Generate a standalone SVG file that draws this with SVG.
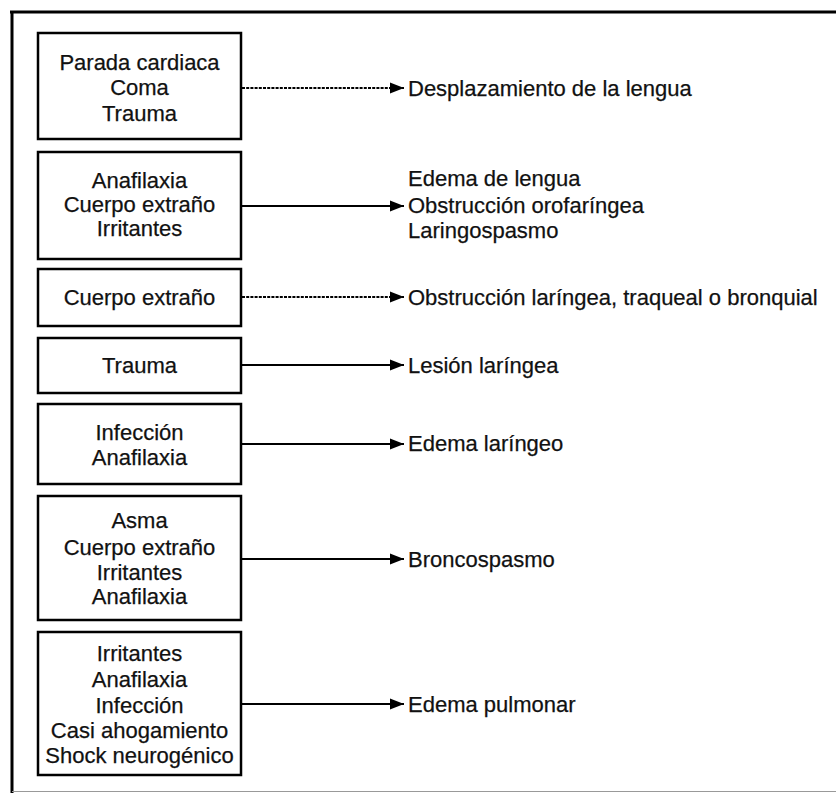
<svg xmlns="http://www.w3.org/2000/svg" width="836" height="794" viewBox="0 0 836 794">
<defs>
<marker id="ah" markerWidth="15" markerHeight="12" refX="14" refY="6" orient="auto" markerUnits="userSpaceOnUse">
<path d="M0,0.5 L14,6 L0,11.5 Z" fill="#000"/>
</marker>
<style>
.box{fill:#fff;stroke:#000;stroke-width:2.5}
.t{font-family:"Liberation Sans",Arial,sans-serif;font-size:22px;fill:#111;stroke:#111;stroke-width:0.25;text-anchor:middle}
.r{font-family:"Liberation Sans",Arial,sans-serif;font-size:22px;fill:#111;stroke:#111;stroke-width:0.25}
.c{stroke:#000;stroke-width:2.2;fill:none;marker-end:url(#ah)}
.d{stroke-dasharray:3 1.2}
</style>
</defs>
<rect width="836" height="794" fill="#fff"/>
<g id="frame">
<line x1="10" y1="12" x2="836" y2="12" stroke="#000" stroke-width="3"/>
<line x1="12" y1="11" x2="12" y2="793" stroke="#000" stroke-width="3"/>
<line x1="12" y1="791.5" x2="836" y2="791.5" stroke="#999" stroke-width="1"/>
</g>
<g id="n1"><rect class="box" x="38" y="33" width="203" height="106"/>
<text class="t" x="139.5" y="70">Parada cardiaca</text><text class="t" x="139.5" y="95">Coma</text><text class="t" x="139.5" y="121">Trauma</text></g>
<g id="n2"><rect class="box" x="38" y="152" width="203" height="107"/>
<text class="t" x="139.5" y="188">Anafilaxia</text><text class="t" x="139.5" y="212">Cuerpo extraño</text><text class="t" x="139.5" y="236">Irritantes</text></g>
<g id="n3"><rect class="box" x="38" y="269" width="203" height="57"/>
<text class="t" x="139.5" y="305">Cuerpo extraño</text></g>
<g id="n4"><rect class="box" x="38" y="338" width="203" height="55"/>
<text class="t" x="139.5" y="373">Trauma</text></g>
<g id="n5"><rect class="box" x="38" y="404" width="203" height="80"/>
<text class="t" x="139.5" y="440">Infección</text><text class="t" x="139.5" y="465">Anafilaxia</text></g>
<g id="n6"><rect class="box" x="38" y="496" width="203" height="124"/>
<text class="t" x="139.5" y="528">Asma</text><text class="t" x="139.5" y="555">Cuerpo extraño</text><text class="t" x="139.5" y="580">Irritantes</text><text class="t" x="139.5" y="604">Anafilaxia</text></g>
<g id="n7"><rect class="box" x="38" y="632" width="203" height="143"/>
<text class="t" x="139.5" y="661">Irritantes</text><text class="t" x="139.5" y="687">Anafilaxia</text><text class="t" x="139.5" y="713">Infección</text><text class="t" x="139.5" y="738">Casi ahogamiento</text><text class="t" x="139.5" y="763">Shock neurogénico</text></g>
<g id="o1"><text class="r" x="408" y="96">Desplazamiento de la lengua</text></g>
<g id="o2"><text class="r" x="408" y="186">Edema de lengua</text><text class="r" x="408" y="213">Obstrucción orofaríngea</text><text class="r" x="408" y="238">Laringospasmo</text></g>
<g id="o3"><text class="r" x="408" y="305">Obstrucción laríngea, traqueal o bronquial</text></g>
<g id="o4"><text class="r" x="408" y="373">Lesión laríngea</text></g>
<g id="o5"><text class="r" x="408" y="451">Edema laríngeo</text></g>
<g id="o6"><text class="r" x="408" y="567">Broncospasmo</text></g>
<g id="o7"><text class="r" x="408" y="712">Edema pulmonar</text></g>
<g id="connectors">
<line class="c d" x1="242" y1="88" x2="404" y2="88"/>
<line class="c" x1="242" y1="206" x2="404" y2="206"/>
<line class="c d" x1="242" y1="297" x2="404" y2="297"/>
<line class="c" x1="242" y1="365" x2="404" y2="365"/>
<line class="c" x1="242" y1="444" x2="404" y2="444"/>
<line class="c" x1="242" y1="559" x2="404" y2="559"/>
<line class="c" x1="242" y1="704" x2="404" y2="704"/>
</g>
</svg>
